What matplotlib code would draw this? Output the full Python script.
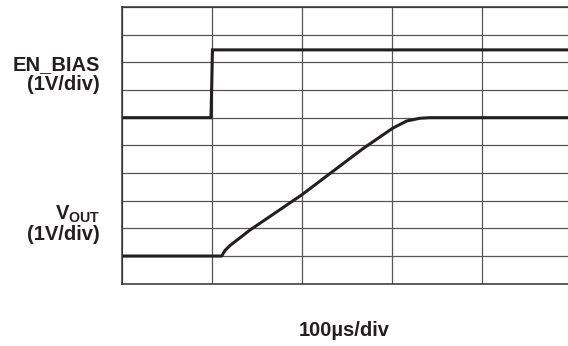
import matplotlib

matplotlib.use("Agg")
import matplotlib.pyplot as plt

# Startup scope capture: EN_BIAS step and VOUT soft-start ramp
# time in microseconds, amplitude in volts (1 V/div on both channels)
en_bias_t = [0, 98.9, 100.5, 495.6]
en_bias_v = [0.0, 0.0, 2.45, 2.45]

vout_t = [0, 110.8, 114.4, 120.0, 142.2, 199.7, 268.1, 300.8, 316.3, 331.1, 342.2, 495.6]
vout_v = [0.0, 0.0, 0.20, 0.38, 0.94, 2.21, 3.89, 4.62, 4.88, 4.98, 5.0, 5.0]

# channel baselines, in divisions from the bottom of the screen
EN_BIAS_POS = 6
VOUT_POS = 1

TIME_DIV = 100  # us/div
VOLT_DIV = 1    # V/div

plt.rcParams["font.family"] = ["Liberation Sans", "DejaVu Sans"]
plt.rcParams["mathtext.fontset"] = "custom"
plt.rcParams["mathtext.bf"] = "Liberation Sans:bold"
plt.rcParams["mathtext.rm"] = "Liberation Sans:bold"

W, H = 568, 346
fig = plt.figure(figsize=(W / 100, H / 100), dpi=100)
ax = fig.add_axes([122 / W, (H - 283.7) / H, 1 - 122 / W, (283.7 - 7) / H])

trace = "#231f20"
ax.plot([t / TIME_DIV for t in en_bias_t],
        [EN_BIAS_POS + v / VOLT_DIV for v in en_bias_v],
        color=trace, lw=2.2, solid_joinstyle="miter")
ax.plot([t / TIME_DIV for t in vout_t],
        [VOUT_POS + v / VOLT_DIV for v in vout_v],
        color=trace, lw=2.2)

ax.set_xlim(0, 4.956)
ax.set_ylim(0, 10)
ax.set_xticks(range(0, 5))
ax.set_yticks(range(0, 11))
ax.tick_params(length=0, labelbottom=False, labelleft=False)
ax.grid(True, color="#555555", lw=0.9)
ax.set_axisbelow(True)
for side in ("top", "left", "bottom"):
    ax.spines[side].set_color("#333333")
    ax.spines[side].set_linewidth(1.1)
ax.spines["right"].set_visible(False)

kw = dict(ha="right", va="center", fontsize=14.5, fontweight="bold", color="#231f20")
fig.text(100 / W, 1 - 65 / H, "EN_BIAS", **kw)
fig.text(100 / W, 1 - 84.5 / H, "(1V/div)", **kw)
fig.text(100 / W, 1 - 214 / H, r"$\mathbf{V_{OUT}}$", **kw)
fig.text(100 / W, 1 - 234 / H, "(1V/div)", **kw)
fig.text(344 / W, 1 - 331 / H, "100µs/div", ha="center", va="center",
         fontsize=14.5, fontweight="bold", color="#231f20")

fig.savefig("out.png", dpi=100)
